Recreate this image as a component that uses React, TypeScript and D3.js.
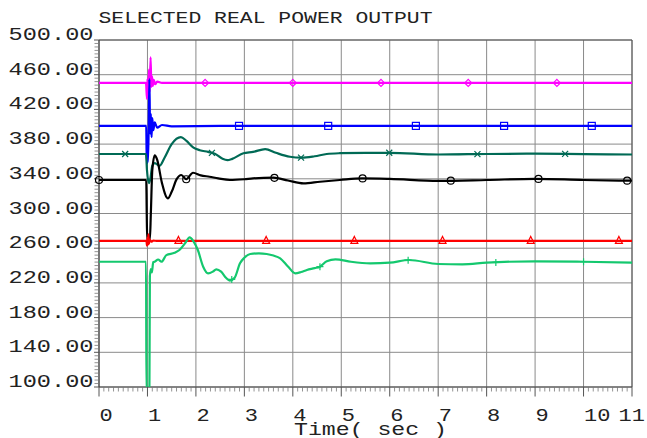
import React from "react";
import * as d3 from "d3";

type Pt = [number, number];

// ---- data (time in sec, real power) ----
const xTicks = [0, 1, 2, 3, 4, 5, 6, 7, 8, 9, 10, 11];
const yTicks = [100, 140, 180, 220, 260, 300, 340, 380, 420, 460, 500];

const magentaSeries: Pt[] = [
  [0, 450.5], [0.97, 450.5], [0.99, 432], [1.0, 455], [1.015, 438], [1.03, 466], [1.045, 440],
  [1.065, 480], [1.08, 446], [1.095, 458], [1.11, 447], [1.13, 454], [1.16, 449], [1.2, 452],
  [1.3, 450.5], [2.5, 450.5], [6, 450.5], [11, 450.5],
];
const blueSeries: Pt[] = [
  [0, 401], [0.975, 401], [0.985, 358], [1.0, 360], [1.02, 382], [1.04, 455], [1.055, 392],
  [1.07, 415], [1.085, 388], [1.1, 410], [1.12, 396], [1.15, 405], [1.2, 399], [1.3, 402],
  [1.5, 400.5], [2.5, 401], [11, 401],
];
const tealSeries: Pt[] = [
  [0, 368.6], [0.97, 368.6], [0.99, 350], [1.03, 335], [1.06, 340], [1.1, 355], [1.15, 358],
  [1.25, 355], [1.35, 364], [1.5, 380], [1.69, 388], [1.8, 384], [1.95, 376], [2.08, 373],
  [2.25, 371], [2.39, 369], [2.55, 363], [2.65, 361.5], [2.75, 363], [2.98, 369.4],
  [3.18, 371], [3.43, 374.3], [3.65, 370], [3.94, 365.4], [4.18, 364.3], [4.45, 366],
  [4.7, 368.6], [4.97, 369.5], [5.5, 370], [6, 370], [7, 368], [8, 368.6], [9, 369],
  [10, 368.5], [11, 368],
];
const blackSeries: Pt[] = [
  [0, 338.6], [0.975, 338.6], [0.985, 300], [0.995, 270], [1.05, 270], [1.07, 300],
  [1.1, 350], [1.15, 367], [1.2, 362], [1.3, 335], [1.42, 317.4], [1.5, 325], [1.6, 339.3],
  [1.7, 344.4], [1.8, 339.5], [1.94, 347], [2.1, 344], [2.28, 342.4], [2.46, 340.5],
  [2.7, 338.6], [3.0, 339.5], [3.18, 340.5], [3.6, 341.3], [3.9, 338], [4.22, 334.7],
  [4.56, 336.6], [4.97, 338.6], [5.43, 340.4], [6, 339.8], [7, 337.5], [8, 338.6],
  [9, 340], [10, 338.6], [11, 337.8],
];
const redSeries: Pt[] = [
  [0, 268.4], [0.98, 268.4], [0.99, 263], [1.0, 272], [1.01, 264], [1.02, 276], [1.03, 265],
  [1.05, 270], [1.08, 267.5], [1.12, 268.8], [1.2, 268.4], [11, 268.4],
];
const greenSeries: Pt[] = [
  [0, 244.4], [0.97, 244.4], [0.98, 90], [1.04, 90], [1.05, 228], [1.07, 236], [1.09, 232],
  [1.12, 244], [1.15, 244.4], [1.22, 247], [1.29, 244.4], [1.39, 252], [1.56, 254.7],
  [1.66, 257.9], [1.78, 266], [1.87, 272.5], [1.95, 268], [2.04, 257.9], [2.15, 238.7],
  [2.25, 231], [2.35, 233], [2.42, 235.6], [2.52, 233], [2.62, 226], [2.7, 222.7],
  [2.8, 226], [2.91, 242.6], [3.0, 249], [3.12, 253.3], [3.3, 254], [3.46, 253.3],
  [3.6, 251.5], [3.74, 248.3], [3.9, 239], [4.05, 231], [4.17, 232.5], [4.29, 234.9],
  [4.45, 237], [4.56, 238.7], [4.7, 245], [4.88, 247.2], [5.2, 244.4], [5.6, 242.6],
  [6.0, 243.3], [6.4, 246.4], [7, 241.8], [7.5, 241.4], [8, 243.3], [9, 244.9],
  [10, 244.4], [11, 243.3],
];

const magentaMarks = [2.19, 4.0, 5.82, 7.62, 9.45];
const blueMarks = [2.89, 4.73, 6.54, 8.36, 10.17];
const tealMarks = [0.54, 2.33, 4.17, 5.99, 7.81, 9.62];
const blackMarks = [0, 1.8, 3.62, 5.44, 7.26, 9.07, 10.9];
const redMarks = [1.64, 3.45, 5.27, 7.09, 8.91, 10.73];
const greenMarks = [2.74, 4.56, 6.38, 8.19, 10.0];

const titleText = "SELECTED REAL POWER OUTPUT";
const xAxisLabel = "Time( sec )";

// ---- layout ----
const W = 647, H = 438;
const L = 99, R = 632, T = 40, B = 387;
const FONT = "'Liberation Mono', 'DejaVu Sans Mono', monospace";

const x = d3.scaleLinear().domain([0, 11]).range([L, R]);
const y = d3.scaleLinear().domain([100, 500]).range([B, T]);

const lineGen = d3.line<Pt>().x(d => x(d[0])).y(d => y(d[1])).curve(d3.curveMonotoneX);

function valueAt(data: Pt[], t: number): number {
  const i = d3.bisector((d: Pt) => d[0]).right(data, t);
  if (i <= 0) return data[0][1];
  if (i >= data.length) return data[data.length - 1][1];
  const a = data[i - 1], b = data[i];
  return a[1] + ((t - a[0]) / (b[0] - a[0])) * (b[1] - a[1]);
}

type Shape = "diamond" | "square" | "x" | "circle" | "triangle" | "plus";

function Marker({ cx, cy, shape, color }: { cx: number; cy: number; shape: Shape; color: string }) {
  const s = 3.5;
  const common = { fill: "none", stroke: color, strokeWidth: 1.2 };
  switch (shape) {
    case "diamond":
      return <path d={`M${cx},${cy - s}L${cx + s},${cy}L${cx},${cy + s}L${cx - s},${cy}Z`} {...common} />;
    case "square":
      return <rect x={cx - s} y={cy - s} width={2 * s} height={2 * s} {...common} />;
    case "circle":
      return <circle cx={cx} cy={cy} r={s} {...common} />;
    case "triangle":
      return <path d={`M${cx},${cy - s - 1}L${cx + s},${cy + s - 1}L${cx - s},${cy + s - 1}Z`} {...common} />;
    case "x":
      return <path d={`M${cx - 3},${cy - 3}L${cx + 3},${cy + 3}M${cx + 3},${cy - 3}L${cx - 3},${cy + 3}`} {...common} />;
    case "plus":
      return <path d={`M${cx - 3.5},${cy}L${cx + 3.5},${cy}M${cx},${cy - 3.5}L${cx},${cy + 3.5}`} {...common} />;
  }
  return null;
}

const series: { data: Pt[]; marks: number[]; color: string; shape: Shape }[] = [
  { data: magentaSeries, marks: magentaMarks, color: "#ff00ff", shape: "diamond" },
  { data: blueSeries, marks: blueMarks, color: "#0000ff", shape: "square" },
  { data: tealSeries, marks: tealMarks, color: "#006a55", shape: "x" },
  { data: blackSeries, marks: blackMarks, color: "#000000", shape: "circle" },
  { data: redSeries, marks: redMarks, color: "#ff0000", shape: "triangle" },
  { data: greenSeries, marks: greenMarks, color: "#14c86e", shape: "plus" },
];

export default function App() {
  const xMinor = d3.range(0, 110).map(i => i / 10).filter(v => Math.abs(v - Math.round(v)) > 1e-6);
  const yMinor = d3.range(100, 500, 4).filter(v => (v - 100) % 40 !== 0);

  return (
    <svg width={W} height={H} style={{ position: "absolute", left: 0, top: 0, background: "#fff" }}>
      <defs>
        <clipPath id="plotClip">
          <rect x={L} y={T} width={R - L} height={B - T} />
        </clipPath>
      </defs>
      <rect x={0} y={0} width={W} height={H} fill="#fff" />

      {/* grid */}
      {yTicks.map(v => (
        <line key={"gy" + v} x1={L} x2={R} y1={y(v)} y2={y(v)} stroke="#8a8a8a" strokeWidth={1} />
      ))}
      {xTicks.map(v => (
        <line key={"gx" + v} x1={x(v)} x2={x(v)} y1={T} y2={B} stroke="#8a8a8a" strokeWidth={1} />
      ))}

      {/* frame */}
      <line x1={L} x2={R} y1={T} y2={T} stroke="#555" strokeWidth={1} />
      <line x1={R} x2={R} y1={T} y2={B} stroke="#555" strokeWidth={1} />
      <line x1={L} x2={L} y1={T} y2={B} stroke="#444" strokeWidth={1.2} />
      <line x1={L} x2={R} y1={B} y2={B} stroke="#444" strokeWidth={1.2} />

      {/* minor ticks */}
      {yMinor.map(v => (
        <line key={"my" + v} x1={L - 4.5} x2={L} y1={y(v)} y2={y(v)} stroke="#777" strokeWidth={0.8} />
      ))}
      {yTicks.map(v => (
        <line key={"My" + v} x1={L - 5} x2={L} y1={y(v)} y2={y(v)} stroke="#555" strokeWidth={1} />
      ))}
      {xMinor.map(v => (
        <line key={"mx" + v} x1={x(v)} x2={x(v)} y1={B} y2={B + 4.5} stroke="#777" strokeWidth={0.8} />
      ))}
      {xTicks.map(v => (
        <line key={"Mx" + v} x1={x(v)} x2={x(v)} y1={B} y2={B + 9.5} stroke="#555" strokeWidth={1} />
      ))}

      {/* series */}
      <g clipPath="url(#plotClip)">
        {series.map((s, i) => (
          <path key={"s" + i} d={lineGen(s.data) || ""} fill="none" stroke={s.color} strokeWidth={2.2} strokeLinejoin="round" />
        ))}
      </g>
      {series.map((s, i) => (
        <g key={"m" + i}>
          {s.marks.map(t => (
            <Marker key={t} cx={x(t)} cy={y(valueAt(s.data, t))} shape={s.shape} color={s.color} />
          ))}
        </g>
      ))}

      {/* y labels */}
      {yTicks.map(v => (
        <text key={"ly" + v} x={93.5} y={y(v)} textAnchor="end" fontFamily={FONT} fontSize={17.5}
          fill="#222" textLength={85} lengthAdjust="spacingAndGlyphs">
          {v.toFixed(2)}
        </text>
      ))}

      {/* x labels */}
      {xTicks.map(v => {
        const s = String(v);
        const isLast = v === 11;
        return (
          <text key={"lx" + v} x={isLast ? 645 : x(v) + 0.5} y={421} textAnchor={isLast ? "end" : "start"}
            fontFamily={FONT} fontSize={19} fill="#222" textLength={s.length * 13.2} lengthAdjust="spacingAndGlyphs">
            {s}
          </text>
        );
      })}

      {/* title & axis label */}
      <text x={98.5} y={23} fontFamily={FONT} fontSize={17} fill="#222" textLength={334} lengthAdjust="spacingAndGlyphs">
        {titleText}
      </text>
      <text x={294} y={435} fontFamily={FONT} fontSize={18} fill="#222" textLength={153} lengthAdjust="spacingAndGlyphs">
        {xAxisLabel}
      </text>
    </svg>
  );
}
